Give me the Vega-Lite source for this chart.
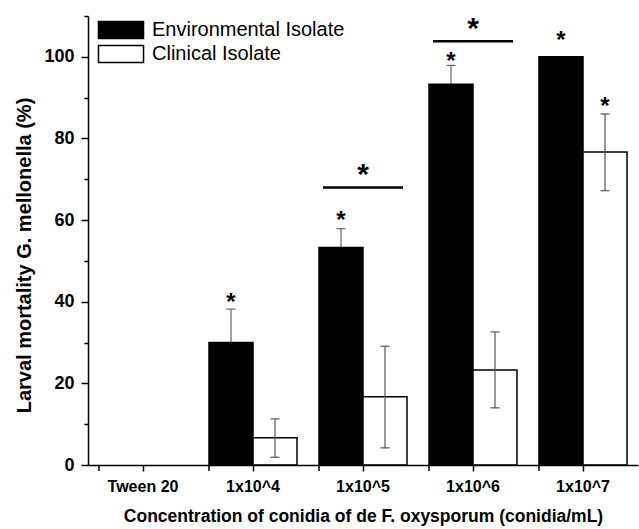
{
  "$schema": "https://vega.github.io/schema/vega-lite/v6.json",
  "autosize": {"type": "none"},
  "width": 550,
  "height": 449,
  "padding": {"left": 88, "top": 16, "right": 1, "bottom": 64},
  "background": "white",
  "config": {
    "font": "Liberation Sans",
    "view": {"stroke": null},
    "tick": {"opacity": 1},
    "axis": {"domainColor": "black", "domainWidth": 1.5, "tickColor": "black", "tickWidth": 1.5, "labelColor": "black", "titleColor": "black", "grid": false}
  },
  "datasets": {
    "bars": [
      {"cat": "Tween 20", "group": "Environmental Isolate", "value": 0, "lo": null, "hi": null},
      {"cat": "Tween 20", "group": "Clinical Isolate", "value": 0, "lo": null, "hi": null},
      {"cat": "1x10^4", "group": "Environmental Isolate", "value": 30, "lo": 21.8, "hi": 38.2},
      {"cat": "1x10^4", "group": "Clinical Isolate", "value": 6.7, "lo": 1.9, "hi": 11.3},
      {"cat": "1x10^5", "group": "Environmental Isolate", "value": 53.3, "lo": 48.7, "hi": 57.9},
      {"cat": "1x10^5", "group": "Clinical Isolate", "value": 16.7, "lo": 4.2, "hi": 29.1},
      {"cat": "1x10^6", "group": "Environmental Isolate", "value": 93.3, "lo": 88.7, "hi": 97.9},
      {"cat": "1x10^6", "group": "Clinical Isolate", "value": 23.3, "lo": 14.0, "hi": 32.6},
      {"cat": "1x10^7", "group": "Environmental Isolate", "value": 100, "lo": null, "hi": null},
      {"cat": "1x10^7", "group": "Clinical Isolate", "value": 76.7, "lo": 67.2, "hi": 86.0}
    ],
    "stars": [
      {"cat": "1x10^4", "group": "Environmental Isolate", "y": 41.7},
      {"cat": "1x10^5", "group": "Environmental Isolate", "y": 61.8},
      {"cat": "1x10^6", "group": "Environmental Isolate", "y": 100.7},
      {"cat": "1x10^7", "group": "Environmental Isolate", "y": 105.9},
      {"cat": "1x10^7", "group": "Clinical Isolate", "y": 89.7}
    ],
    "sig": [
      {"cat": "1x10^5", "line": 68.0, "star": 73.5},
      {"cat": "1x10^6", "line": 103.8, "star": 109.3}
    ]
  },
  "encoding": {
    "x": {
      "field": "cat", "type": "nominal",
      "sort": ["Tween 20", "1x10^4", "1x10^5", "1x10^6", "1x10^7"],
      "scale": {"domain": ["Tween 20", "1x10^4", "1x10^5", "1x10^6", "1x10^7"], "paddingInner": 0.2, "paddingOuter": 0.1},
      "axis": {
        "title": "Concentration of conidia of de F. oxysporum (conidia/mL)",
        "titleFontSize": 17.5, "titleFontWeight": "bold", "titlePadding": 13,
        "labelAngle": 0, "labelFontSize": 16, "labelFontWeight": "bold", "labelPadding": 7,
        "tickSize": 6, "zindex": 1
      }
    }
  },
  "layer": [
    {
      "data": {"name": "bars"},
      "transform": [{"filter": "datum.group === 'Environmental Isolate' && datum.hi != null"}],
      "layer": [
        {"mark": {"type": "rule", "color": "#666", "strokeWidth": 1.2}, "encoding": {"xOffset": {"field": "group", "type": "nominal"}, "y": {"field": "lo", "type": "quantitative"}, "y2": {"field": "hi"}}},
        {"mark": {"type": "tick", "orient": "horizontal", "size": 9, "thickness": 1.2, "color": "#666"}, "encoding": {"xOffset": {"field": "group", "type": "nominal"}, "y": {"field": "hi", "type": "quantitative"}}}
      ]
    },
    {
      "data": {"name": "bars"},
      "transform": [{"filter": "datum.value > 0"}],
      "mark": {"type": "bar", "stroke": "black", "strokeWidth": 1.5},
      "encoding": {
        "xOffset": {"field": "group", "type": "nominal", "sort": ["Environmental Isolate", "Clinical Isolate"], "scale": {"domain": ["Environmental Isolate", "Clinical Isolate"], "paddingInner": 0, "paddingOuter": 0}},
        "y": {
          "field": "value", "type": "quantitative",
          "scale": {"domain": [0, 110], "nice": false},
          "axis": {
            "title": "Larval mortality G. mellonella (%)",
            "titleFontSize": 20, "titleFontWeight": "bold", "titlePadding": 9, "titleY": 239,
            "values": [0, 10, 20, 30, 40, 50, 60, 70, 80, 90, 100, 110],
            "labelExpr": "datum.value % 20 === 0 && datum.value <= 100 ? datum.label : ''",
            "labelFontSize": 18, "labelFontWeight": "bold", "labelPadding": 7,
            "tickSize": {"condition": {"test": "datum.value % 20 === 0 && datum.value <= 100", "value": 7}, "value": 4}
          }
        },
        "fill": {
          "field": "group", "type": "nominal",
          "scale": {"domain": ["Environmental Isolate", "Clinical Isolate"], "range": ["black", "white"]},
          "legend": {
            "title": null, "orient": "none", "legendX": 23, "legendY": 4, "padding": 0,
            "symbolType": "M-2.65,-1L2.65,-1L2.65,1L-2.65,1Z", "symbolSize": 289,
            "symbolStrokeColor": "black", "symbolStrokeWidth": 1.5,
            "labelFontSize": 20, "labelOffset": 21, "labelLimit": 0, "rowPadding": 0, "labelColor": "black"
          }
        }
      }
    },
    {
      "data": {"name": "bars"},
      "transform": [{"filter": "datum.group === 'Clinical Isolate' && datum.hi != null"}],
      "layer": [
        {"mark": {"type": "rule", "color": "#555", "strokeWidth": 1.2}, "encoding": {"xOffset": {"field": "group", "type": "nominal"}, "y": {"field": "lo", "type": "quantitative"}, "y2": {"field": "hi"}}},
        {"mark": {"type": "tick", "orient": "horizontal", "size": 9, "thickness": 1.2, "color": "#555"}, "encoding": {"xOffset": {"field": "group", "type": "nominal"}, "y": {"field": "hi", "type": "quantitative"}}},
        {"mark": {"type": "tick", "orient": "horizontal", "size": 9, "thickness": 1.2, "color": "#555"}, "encoding": {"xOffset": {"field": "group", "type": "nominal"}, "y": {"field": "lo", "type": "quantitative"}}}
      ]
    },
    {
      "data": {"name": "stars"},
      "mark": {"type": "text", "text": "*", "fontSize": 24, "fontWeight": "bold", "baseline": "alphabetic", "dy": 15, "color": "black"},
      "encoding": {"xOffset": {"field": "group", "type": "nominal"}, "y": {"field": "y", "type": "quantitative"}}
    },
    {
      "data": {"name": "sig"},
      "mark": {"type": "tick", "orient": "horizontal", "size": 80, "thickness": 2.5, "color": "black"},
      "encoding": {"y": {"field": "line", "type": "quantitative"}}
    },
    {
      "data": {"name": "sig"},
      "mark": {"type": "text", "text": "*", "fontSize": 30, "fontWeight": "bold", "baseline": "alphabetic", "dy": 19, "color": "black"},
      "encoding": {"y": {"field": "star", "type": "quantitative"}}
    },
    {
      "data": {"name": "bars"},
      "transform": [{"filter": "datum.group === 'Environmental Isolate'"}],
      "mark": {"type": "tick", "orient": "vertical", "size": 6, "thickness": 1.5, "color": "black", "yOffset": 3},
      "encoding": {"x": {"field": "cat", "type": "nominal", "bandPosition": 0}, "y": {"datum": 0, "type": "quantitative"}}
    }
  ]
}
